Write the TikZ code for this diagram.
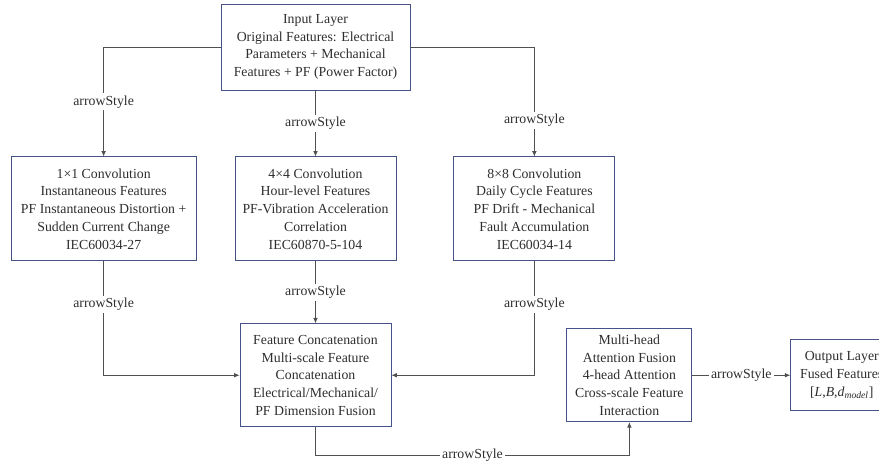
\documentclass[tikz,border=0pt]{standalone}
\usepackage{fontspec}
\setmainfont{Liberation Serif}
\usepackage{tikz}
\usetikzlibrary{arrows.meta,positioning}
\definecolor{Edge}{HTML}{46528A}
\definecolor{Wire}{HTML}{505050}
\definecolor{Ink}{HTML}{2E2E2E}
\tikzset{
  block/.style={draw=Edge, line width=0.65pt, fill=white, align=center, inner sep=2pt, font=\fontsize{10.35}{13.3}\selectfont, text=Ink},
  arrow/.style={-{Latex[length=4pt,width=3.5pt]}, line width=0.6pt, draw=Wire},
  lbl/.style={fill=white, inner sep=1.5pt, font=\fontsize{10.35}{12}\selectfont, text=Ink}
}

\begin{document}
\begin{tikzpicture}[node distance=49.5pt]
\clip[use as bounding box] (0,0) rectangle (659.25pt,-345.75pt);
\node[block, minimum width=141.75pt, minimum height=64.5pt] (input) at (236.625pt,-35.25pt) {Input Layer\\Original Features: Electrical\\Parameters + Mechanical\\Features + PF (Power Factor)};
\node[block, below=49.5pt of input, minimum width=120.75pt, minimum height=78pt] (conv4) {4×4 Convolution\\Hour-level Features\\PF-Vibration Acceleration\\Correlation\\IEC60870-5-104};
\node[block, left=28.5pt of conv4, minimum width=138.75pt, minimum height=78pt] (conv1) {1×1 Convolution\\Instantaneous Features\\PF Instantaneous Distortion +\\Sudden Current Change\\IEC60034-27};
\node[block, right=42.75pt of conv4, minimum width=120.75pt, minimum height=78pt] (conv8) {8×8 Convolution\\Daily Cycle Features\\PF Drift - Mechanical\\Fault Accumulation\\IEC60034-14};
\node[block, below=46.5pt of conv4, minimum width=113.25pt, minimum height=77.25pt] (concat) {Feature Concatenation\\Multi-scale Feature\\Concatenation\\Electrical/Mechanical/\\PF Dimension Fusion};
\node[block, right=131.25pt of concat, minimum width=93.75pt, minimum height=69.75pt] (attn) {Multi-head\\Attention Fusion\\4-head Attention\\Cross-scale Feature\\Interaction};
\node[block, right=73.5pt of attn, minimum width=76.5pt, minimum height=53.25pt] (out) {Output Layer\\Fused Features\\{}[\textit{L},\textit{B},\textit{d}\textsubscript{\textit{model}}]};
% input to the three convolution branches
\draw[arrow] (input.west) -| node[lbl, pos=0.75] {arrowStyle} (conv1.north);
\draw[arrow] (input) -- node[lbl] {arrowStyle} (conv4);
\draw[arrow] (input.east) -| node[lbl, pos=0.835] {arrowStyle} (conv8.north);
% branches to concatenation
\draw[arrow] (conv1.south) |- node[lbl, pos=0.19] {arrowStyle} (concat.west);
\draw[arrow] (conv4) -- node[lbl] {arrowStyle} (concat);
\draw[arrow] (conv8.south) |- node[lbl, pos=0.19] {arrowStyle} (concat.east);
% fusion and output
\draw[arrow] (concat.south) -- ++(0,-21pt) -| node[lbl, pos=0.25] {arrowStyle} (attn.south);
\draw[arrow] (attn) -- node[lbl] {arrowStyle} (out);
\end{tikzpicture}
\end{document}
